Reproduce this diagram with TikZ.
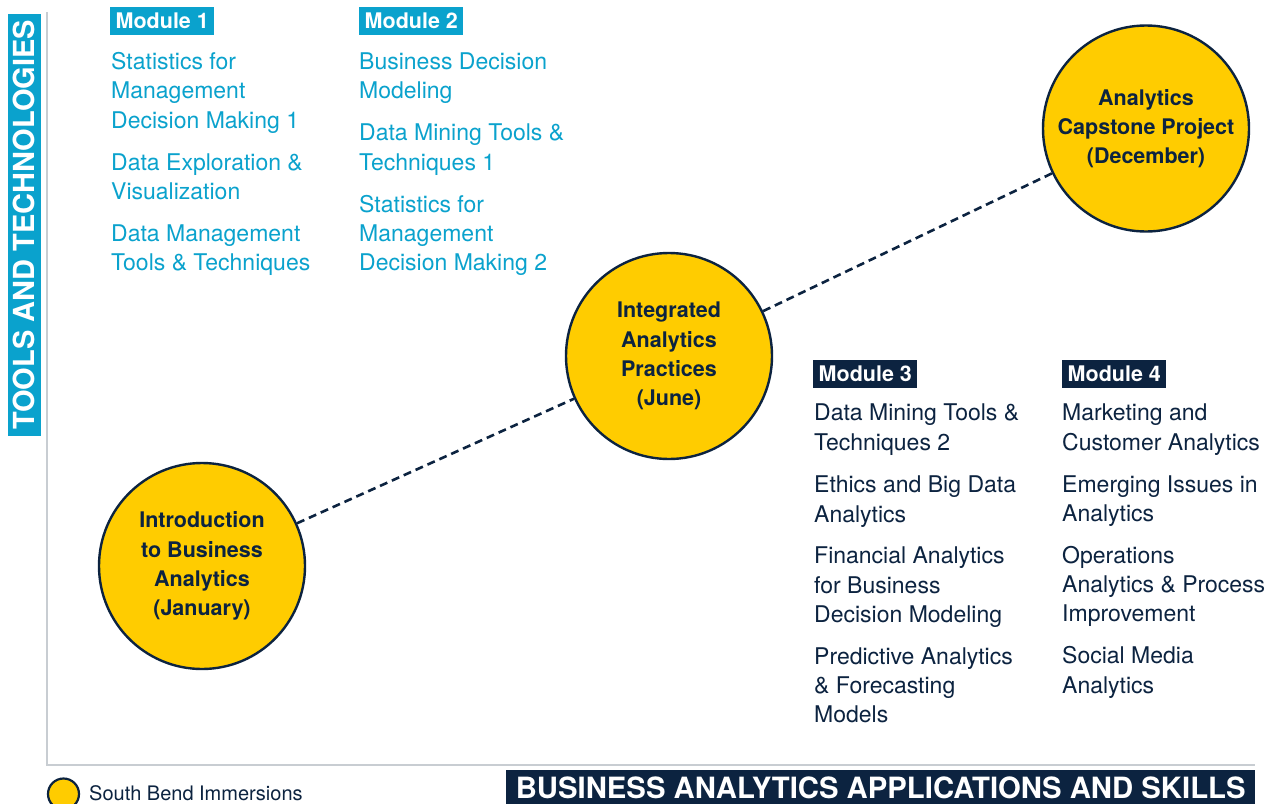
\documentclass[tikz,border=0pt]{standalone}
\usepackage{fontspec}
\setmainfont{TeX Gyre Heros}
\usetikzlibrary{shapes.geometric}

\definecolor{ndnavy}{HTML}{0C2340}
\definecolor{skyteal}{HTML}{0AA2CD}
\definecolor{stopgold}{HTML}{FFCC00}
\definecolor{axisgray}{HTML}{C8CDD2}

\tikzset{
  stopnode/.style={circle, draw=ndnavy, line width=2.4pt, fill=stopgold,
    inner sep=0pt, align=center, text=ndnavy, minimum size=206pt,
    font=\bfseries\fontsize{21.5}{29.2}\selectfont},
  link/.style={draw=ndnavy, line width=2.6pt, dash pattern=on 8pt off 5pt},
  axisline/.style={draw=axisgray, line width=1.8pt},
  modtag/.style={anchor=north west, inner xsep=5.5pt, inner ysep=0pt,
    minimum height=28pt, text=white, font=\bfseries\fontsize{21.5}{24}\selectfont},
  lightitem/.style={text=skyteal, inner sep=0pt, font=\fontsize{23}{29.3}\selectfont},
  darkitem/.style={text=ndnavy, inner sep=0pt, font=\fontsize{23}{29.3}\selectfont},
  banner/.style={text=white, inner sep=0pt, font=\bfseries\fontsize{29}{32}\selectfont},
}

% one course entry: name, style, x, first baseline, lines
\newcommand\courseentry[5]{%
  \foreach \ln [count=\k] in {#5}{%
    \node[#2, anchor=base west] (#1-\k) at (#3,{#4+(\k-1)*29.3}) {\ln};}}

\begin{document}
\begin{tikzpicture}[x=1pt, y=-1pt]
\useasboundingbox (0,0) rectangle (1282,803);
\clip (0,0) rectangle (1282,803);
\fill[white] (0,0) rectangle (1282,803);

% axes
\coordinate (axtop) at (47,12);
\coordinate (axorigin) at (47,765);
\coordinate (axend) at (1255,765);
\draw[axisline] (axtop) -- (axorigin) -- (axend);

% axis titles
\node[banner, fill=skyteal, rotate=90, minimum width=422pt, minimum height=33pt]
  (ytitle) at (24,225) {TOOLS AND TECHNOLOGIES};
\node[banner, fill=ndnavy, anchor=north west, minimum width=749pt, minimum height=35pt,
  font=\bfseries\fontsize{29.3}{32}\selectfont]
  (xtitle) at (506,770) {BUSINESS ANALYTICS APPLICATIONS AND SKILLS};

% legend
\node[circle, draw=ndnavy, line width=2.2pt, fill=stopgold, minimum size=31pt, inner sep=0pt]
  (legdot) at (63.5,794) {};
\node[anchor=base west, text=ndnavy, inner sep=0pt, font=\fontsize{20}{24}\selectfont]
  (legtext) at (89,800) {South Bend Immersions};

% immersion stops
\node[stopnode] (intro) at (202,566) {Introduction\\to Business\\Analytics\\(January)};
\node[stopnode] (iap) at (669,356) {Integrated\\Analytics\\Practices\\(June)};
\node[stopnode] (cap) at (1146,128.5) {Analytics\\Capstone Project\\(December)};
\draw[link] (intro) -- (iap);
\draw[link] (iap) -- (cap);

% module 1
\node[modtag, fill=skyteal] (mod1) at (110,7) {Module 1};
\courseentry{m1a}{lightitem}{111}{69.5}{Statistics for,Management,Decision Making 1}
\courseentry{m1b}{lightitem}{111}{170.1}{Data Exploration \&,Visualization}
\courseentry{m1c}{lightitem}{111}{241.4}{Data Management,Tools \& Techniques}

% module 2
\node[modtag, fill=skyteal] (mod2) at (359,7) {Module 2};
\courseentry{m2a}{lightitem}{359}{69.5}{Business Decision,Modeling}
\courseentry{m2b}{lightitem}{359}{140.8}{Data Mining Tools \&,Techniques 1}
\courseentry{m2c}{lightitem}{359}{212.1}{Statistics for,Management,Decision Making 2}

% module 3
\node[modtag, fill=ndnavy] (mod3) at (813,360) {Module 3};
\courseentry{m3a}{darkitem}{814}{420.7}{Data Mining Tools \&,Techniques 2}
\courseentry{m3b}{darkitem}{814}{492.7}{Ethics and Big Data,Analytics}
\courseentry{m3c}{darkitem}{814}{563.7}{Financial Analytics,for Business,Decision Modeling}
\courseentry{m3d}{darkitem}{814}{664.3}{Predictive Analytics,\& Forecasting,Models}

% module 4
\node[modtag, fill=ndnavy] (mod4) at (1062,360) {Module 4};
\courseentry{m4a}{darkitem}{1062}{420.7}{Marketing and,Customer Analytics}
\courseentry{m4b}{darkitem}{1062}{492}{Emerging Issues in,Analytics}
\courseentry{m4c}{darkitem}{1062}{563.3}{Operations,Analytics \& Process,Improvement}
\courseentry{m4d}{darkitem}{1062}{663.9}{Social Media,Analytics}
\end{tikzpicture}
\end{document}
